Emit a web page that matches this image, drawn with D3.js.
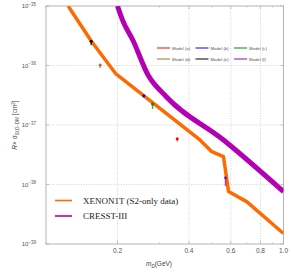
<!DOCTYPE html>
<html>
<head>
<meta charset="utf-8">
<script src="https://cdn.jsdelivr.net/npm/d3@7"></script>
<style>
  body { margin: 0; background: #fff; }
  svg { display: block; }
</style>
</head>
<body>
<div id="chart"></div>
<script>
var w = 291, h = 274;

// XENON1T (S2-only) limit
var xenonMass = [0.124, 0.155, 0.197, 0.445, 0.499, 0.559, 0.587, 0.702, 1.0];
var xenonSigma = [1e-35, 2.58e-36, 7.2e-37, 5.6e-38, 3.56e-38, 2.93e-38, 7.6e-39, 5.1e-39, 1.5e-39];

// CRESST-III limit
var cresstMass = [0.2, 0.21, 0.232, 0.269, 0.321, 0.559, 1.0];
var cresstSigma = [1e-35, 5.8e-36, 2.68e-36, 6.9e-37, 2.99e-37, 5.6e-38, 7.6e-39];

// model points (value and lower end of error bar)
var modelNames = ["Model (a)", "Model (b)", "Model (c)", "Model (d)", "Model (e)", "Model (f)"];
var modelColors = ["#ff0000", "#0000ff", "#008c00", "#a0703c", "#000000", "#a000b4"];
var modelMass = [0.357, 0.258, 0.281, 0.169, 0.155, 0.57];
var modelSigma = [5.9e-38, 3.1e-37, 2.25e-37, 1.02e-36, 2.55e-36, 1.3e-38];
var modelSigmaLow = [5.3e-38, 2.9e-37, 1.86e-37, 9.1e-37, 2.2e-36, 9.4e-39];

var xTicks = [0.2, 0.4, 0.6, 0.8, 1.0];
var yTicks = [1e-35, 1e-36, 1e-37, 1e-38, 1e-39];

var svg = d3.select("#chart").append("svg").attr("width", w).attr("height", h);

var x = d3.scaleLog().domain([0.1, 1]).range([46, 283.5]);
var y = d3.scaleLog().domain([1e-39, 1e-35]).range([244, 6]);

// grid lines
var grid = svg.append("g").attr("stroke", "#c8c8c8").attr("stroke-width", 0.8).attr("stroke-dasharray", "1,1.5");
grid.selectAll("line.gx").data(xTicks.slice(0, 4)).enter().append("line")
    .attr("x1", d => x(d)).attr("x2", d => x(d)).attr("y1", y.range()[0]).attr("y2", y.range()[1]);
grid.selectAll("line.gy").data(yTicks.slice(1, 4)).enter().append("line")
    .attr("x1", x.range()[0]).attr("x2", x.range()[1]).attr("y1", d => y(d)).attr("y2", d => y(d));

// frame
svg.append("rect")
    .attr("x", x.range()[0]).attr("y", y.range()[1])
    .attr("width", x.range()[1] - x.range()[0]).attr("height", y.range()[0] - y.range()[1])
    .attr("fill", "none").attr("stroke", "#b4b4b4").attr("stroke-width", 1);

// minor ticks on the x axis (bottom and top)
var xMinor = d3.range(1, 10).map(d => d / 10).concat([1.0]);
var ticks = svg.append("g").attr("stroke", "#b4b4b4").attr("stroke-width", 0.8);
xMinor.forEach(function (d) {
    var big = xTicks.indexOf(+d.toFixed(1)) >= 0;
    ticks.append("line").attr("x1", x(d)).attr("x2", x(d)).attr("y1", y.range()[0]).attr("y2", y.range()[0] - (big ? 3 : 1.5));
    ticks.append("line").attr("x1", x(d)).attr("x2", x(d)).attr("y1", y.range()[1]).attr("y2", y.range()[1] + (big ? 3 : 1.5));
});
yTicks.forEach(function (d) {
    ticks.append("line").attr("x1", x.range()[0]).attr("x2", x.range()[0] + 3).attr("y1", y(d)).attr("y2", y(d));
    ticks.append("line").attr("x1", x.range()[1]).attr("x2", x.range()[1] - 3).attr("y1", y(d)).attr("y2", y(d));
});

// x tick labels
svg.append("g").selectAll("text").data(xTicks).enter().append("text")
    .attr("x", d => x(d)).attr("y", 253)
    .attr("text-anchor", "middle")
    .attr("font-family", "Liberation Sans, Arial, sans-serif").attr("font-size", 6.5).attr("fill", "#555")
    .text(d => d.toFixed(1));

// y tick labels 10^-n
var yl = svg.append("g").selectAll("text").data(yTicks).enter().append("text")
    .attr("x", 36).attr("y", d => y(d) + 2)
    .attr("text-anchor", "end")
    .attr("font-family", "Liberation Sans, Arial, sans-serif").attr("font-size", 6).attr("fill", "#555");
yl.append("tspan").text("10");
yl.append("tspan").attr("dy", -2.5).attr("font-size", 4.5).text(d => "\u2212" + Math.round(-Math.log10(d)));

// axis titles
var xt = svg.append("text").attr("x", 159).attr("y", 266).attr("text-anchor", "middle")
    .attr("font-family", "Liberation Sans, Arial, sans-serif").attr("font-size", 6.5).attr("fill", "#444");
xt.append("tspan").attr("font-style", "italic").text("m");
xt.append("tspan").attr("dy", 1.5).attr("font-size", 4.5).attr("font-style", "italic").text("D");
xt.append("tspan").attr("dy", -1.5).text("(GeV)");

var yt = svg.append("text").attr("transform", "translate(17,125) rotate(-90)").attr("text-anchor", "middle")
    .attr("font-family", "Liberation Sans, Arial, sans-serif").attr("font-size", 6.5).attr("fill", "#444");
yt.append("tspan").attr("font-style", "italic").text("R");
yt.append("tspan").text("\u00d7 \u03c3");
yt.append("tspan").attr("dy", 1.5).attr("font-size", 4.5).text("SI,D\u2212DM");
yt.append("tspan").attr("dy", -1.5).text(" [cm");
yt.append("tspan").attr("dy", -2.5).attr("font-size", 4.5).text("2");
yt.append("tspan").attr("dy", 2.5).text("]");

// clip for curves
svg.append("clipPath").attr("id", "clip").append("rect")
    .attr("x", x.range()[0]).attr("y", y.range()[1])
    .attr("width", x.range()[1] - x.range()[0]).attr("height", y.range()[0] - y.range()[1]);

var line = d3.line().x(d => x(d[0])).y(d => y(d[1]));
var curvy = d3.line().x(d => x(d[0])).y(d => y(d[1])).curve(d3.curveMonotoneX);

svg.append("path")
    .datum(d3.zip(cresstMass, cresstSigma))
    .attr("clip-path", "url(#clip)")
    .attr("d", curvy)
    .attr("fill", "none").attr("stroke", "#b400b4").attr("stroke-width", 5);

svg.append("path")
    .datum(d3.zip(xenonMass, xenonSigma))
    .attr("clip-path", "url(#clip)")
    .attr("d", line)
    .attr("fill", "none").attr("stroke", "#ff6a00").attr("stroke-width", 3.5)
    .attr("stroke-linejoin", "round");

// model points with error bars
modelNames.forEach(function (name, i) {
    svg.append("line")
        .attr("x1", x(modelMass[i])).attr("x2", x(modelMass[i]))
        .attr("y1", y(modelSigma[i])).attr("y2", y(modelSigmaLow[i]))
        .attr("stroke", modelColors[i]).attr("stroke-width", 1.5).attr("opacity", 0.7);
    svg.append("circle")
        .attr("cx", x(modelMass[i])).attr("cy", y(modelSigma[i])).attr("r", 1.5)
        .attr("fill", i == 5 ? "#6a2aa0" : modelColors[i]);
});

// model legend (2 rows x 3 columns)
var legend = svg.append("g");
modelNames.forEach(function (name, i) {
    var col = i % 3, row = Math.floor(i / 3);
    var lx = 157 + col * 38.5, ly = 48 + row * 11;
    legend.append("line").attr("x1", lx).attr("x2", lx + 13).attr("y1", ly).attr("y2", ly)
        .attr("stroke", modelColors[i]).attr("stroke-width", 1);
    legend.append("text").attr("x", lx + 15).attr("y", ly + 1.5)
        .attr("font-family", "Liberation Sans, Arial, sans-serif").attr("font-size", 4.3).attr("fill", "#555")
        .text(name);
});

// experiment legend
var expNames = ["XENON1T (S2-only data)", "CRESST-III"];
var expColors = ["#ff6a00", "#b400b4"];
expNames.forEach(function (name, i) {
    var ly = 200.5 + i * 15.5;
    svg.append("line").attr("x1", 55).attr("x2", 72).attr("y1", ly).attr("y2", ly)
        .attr("stroke", expColors[i]).attr("stroke-width", 1.6);
    svg.append("text").attr("x", 83).attr("y", ly + 3)
        .attr("font-family", "Liberation Serif, Times New Roman, serif").attr("font-size", 9).attr("fill", "#222")
        .text(name);
});
</script>
</body>
</html>
